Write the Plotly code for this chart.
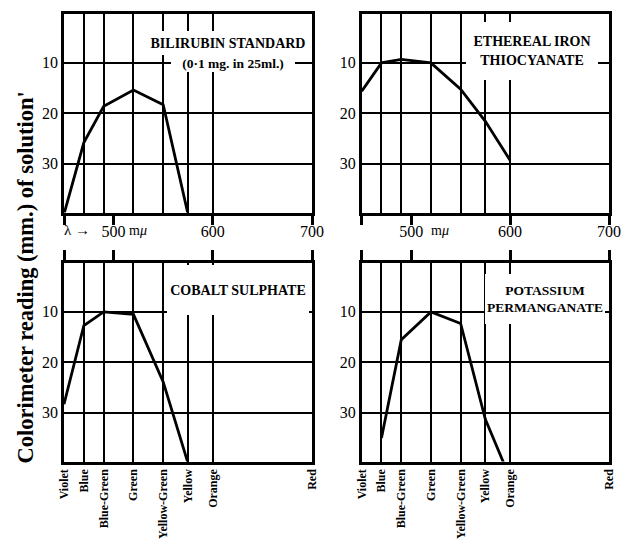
import plotly.graph_objects as go

# ---- data ----
colour_names = ["Violet", "Blue", "Blue-Green", "Green", "Yellow-Green", "Yellow", "Orange", "Red"]
colour_wavelengths = [450, 470, 490, 520, 550, 575, 600, 700]
scale_ticks = [450, 500, 600, 700]
scale_labels = ["", "500", "600", "700"]
reading_ticks = [10, 20, 30]

bilirubin_x = [450, 470, 490, 520, 550, 575]
bilirubin_y = [40, 25.8, 18.6, 15.4, 18.3, 40]

iron_x = [450, 470, 490, 520, 550, 575, 600]
iron_y = [15.6, 10, 9.3, 10, 15.2, 21.6, 29.3]

cobalt_x = [450, 470, 490, 520, 550, 575]
cobalt_y = [28.3, 12.7, 10.0, 10.5, 23.9, 40]

permanganate_x = [470, 490, 520, 550, 575, 600]
permanganate_y = [35, 15.5, 10, 12.3, 31.3, 43]

FONT = "Liberation Serif"
W, H = 622, 539

fig = go.Figure()

panels = [
    dict(xa="x", ya="y", x=bilirubin_x, y=bilirubin_y, dom_x=[64, 312], dom_y=[14, 212.6], top=True),
    dict(xa="x2", ya="y2", x=iron_x, y=iron_y, dom_x=[361.7, 609], dom_y=[14, 212.6], top=True),
    dict(xa="x3", ya="y3", x=cobalt_x, y=cobalt_y, dom_x=[64, 312], dom_y=[263, 461.6], top=False),
    dict(xa="x4", ya="y4", x=permanganate_x, y=permanganate_y, dom_x=[361.7, 609], dom_y=[263, 461.6], top=False),
]

xrange_ = [450, 700]
yrange_ = [39.7, 0.3]

for i, p in enumerate(panels):
    fig.add_trace(go.Scatter(x=p["x"], y=p["y"], xaxis=p["xa"], yaxis=p["ya"],
                             mode="lines", line=dict(color="black", width=2.8),
                             showlegend=False, hoverinfo="skip"))
    xdom = [p["dom_x"][0] / W, p["dom_x"][1] / W]
    ydom = [1 - p["dom_y"][1] / H, 1 - p["dom_y"][0] / H]
    xkey = "xaxis" if p["xa"] == "x" else "xaxis" + p["xa"][1:]
    ykey = "yaxis" if p["ya"] == "y" else "yaxis" + p["ya"][1:]
    common_x = dict(domain=xdom, range=xrange_, anchor=p["ya"], showline=True, mirror=True,
                    linecolor="black", linewidth=2.5, zeroline=False, automargin=False,
                    fixedrange=True)
    if p["top"]:
        fig.update_layout({xkey: dict(**common_x, tickmode="array", tickvals=scale_ticks,
                                      ticktext=scale_labels, ticks="outside", ticklen=10,
                                      tickwidth=2.5, tickcolor="black", showgrid=False,
                                      ticklabelstandoff=-8,
                                      tickfont=dict(family=FONT, size=16, color="black"),
                                      minor=dict(tickmode="array", tickvals=colour_wavelengths,
                                                 showgrid=True, gridcolor="black", gridwidth=1.9,
                                                 ticks=""))})
    else:
        fig.update_layout({xkey: dict(**common_x, tickmode="array", tickvals=colour_wavelengths,
                                      ticktext=colour_names, ticks="", tickangle=-90,
                                      showgrid=True, gridcolor="black", gridwidth=1.9,
                                      tickfont=dict(family=FONT, size=12, color="black",
                                                    weight="bold"))})
    fig.update_layout({ykey: dict(domain=ydom, range=yrange_, anchor=p["xa"], showline=True,
                                  mirror=True, linecolor="black", linewidth=2.5, zeroline=False,
                                  tickmode="array", tickvals=reading_ticks, ticks="",
                                  showgrid=True, gridcolor="black", gridwidth=1.9,
                                  automargin=False, fixedrange=True,
                                  tickfont=dict(family=FONT, size=16, color="black"))})

# top wavelength ticks on the bottom panels (overlay axes)
for ov, base, ya in [("x5", "x3", "y3"), ("x6", "x4", "y4")]:
    fig.add_trace(go.Scatter(x=[], y=[], xaxis=ov, yaxis=ya, showlegend=False, hoverinfo="skip"))
    fig.update_layout({"xaxis" + ov[1:]: dict(overlaying=base, side="top", anchor=ya,
                                               range=xrange_, tickmode="array",
                                               tickvals=scale_ticks, ticks="outside",
                                               ticklen=12, tickwidth=2.5, tickcolor="black",
                                               showticklabels=False, showgrid=False,
                                               zeroline=False, showline=False,
                                               automargin=False, fixedrange=True)})

ann = []
tf = dict(family=FONT, size=14, color="black", weight="bold")
# panel titles (white boxes hide grid lines behind them)
ann.append(dict(x=615, y=6.0, xref="x", yref="y", text="BILIRUBIN STANDARD", showarrow=False,
                font=tf, bgcolor="white", width=162, height=22, borderwidth=0))
ann.append(dict(x=620, y=10.1, xref="x", yref="y", text="(0·1 mg. in 25ml.)", showarrow=False,
                font=dict(family=FONT, size=13.5, color="black", weight="bold"),
                bgcolor="white", width=122, height=16, borderwidth=0))
ann.append(dict(x=622, y=7.6, xref="x2", yref="y2", text="ETHEREAL IRON<br>THIOCYANATE",
                showarrow=False, font=tf, bgcolor="white", width=130, height=56, borderwidth=0))
ann.append(dict(x=625.4, y=5.6, xref="x3", yref="y3", text="COBALT SULPHATE", showarrow=False,
                font=tf, bgcolor="white", width=140, height=48, borderwidth=0))
ann.append(dict(x=635.3, y=7.4, xref="x4", yref="y4", text="POTASSIUM<br>PERMANGANATE",
                showarrow=False, font=dict(family=FONT, size=13.5, color="black", weight="bold"),
                bgcolor="white", width=118, height=48, borderwidth=0))

# wavelength unit marks
for xr, ux in [("x", 525), ("x2", 529)]:
    ann.append(dict(x=ux, y=1 - 230 / H, xref=xr, yref="paper", text="m<i>μ</i>", showarrow=False,
                    font=dict(family=FONT, size=14, color="black")))
ann.append(dict(x=463, y=1 - 230 / H, xref="x", yref="paper", text="λ →", showarrow=False,
                font=dict(family=FONT, size=15, color="black")))

# shared y-axis title
ann.append(dict(x=25 / W, y=1 - 277.5 / H, xref="paper", yref="paper", xanchor="center",
                yanchor="middle", text="Colorimeter reading (mm.) of solution'", textangle=-90,
                showarrow=False, font=dict(family=FONT, size=22.5, color="black", weight="bold")))

fig.update_layout(annotations=ann, width=W, height=H, margin=dict(l=0, r=0, t=0, b=0),
                  paper_bgcolor="white", plot_bgcolor="white", template="none",
                  showlegend=False)

fig.write_html("out.html", config={"displayModeBar": False},
               post_script="document.body.style.margin='0';document.body.style.overflow='hidden';")
